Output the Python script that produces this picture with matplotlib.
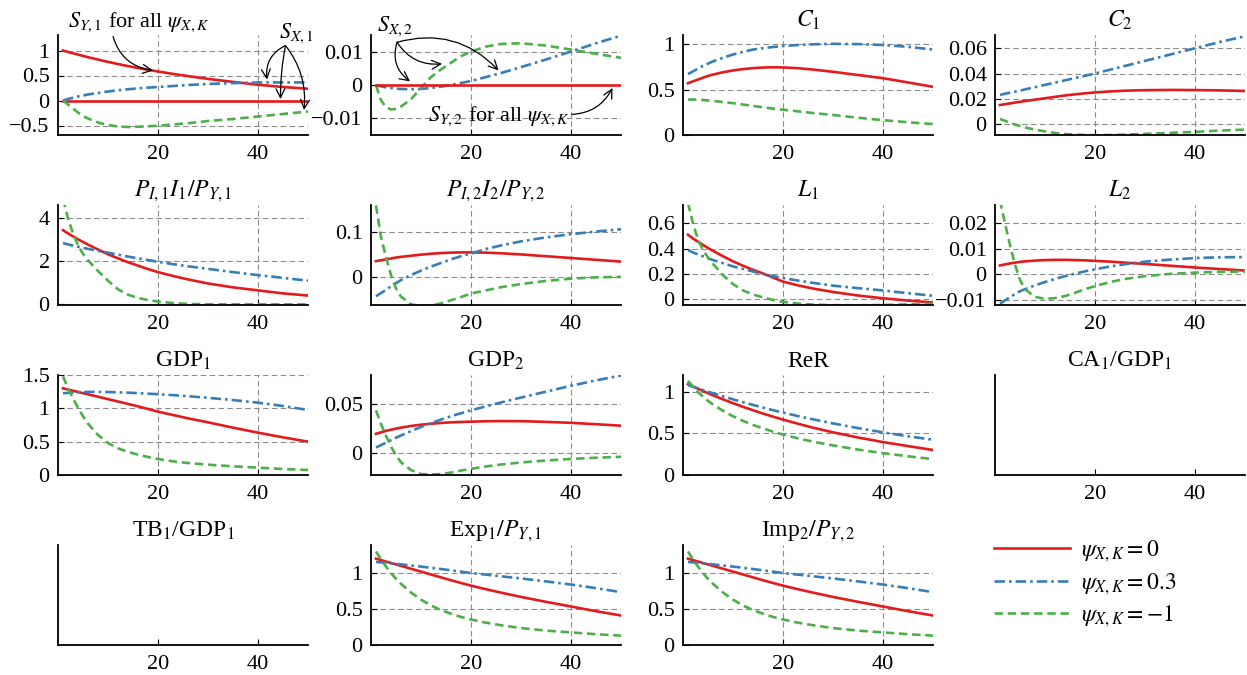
import matplotlib
matplotlib.use('Agg')
from matplotlib import pyplot as plt
from matplotlib.lines import Line2D
from matplotlib.ticker import FuncFormatter, FixedLocator

plt.rcParams['font.family'] = ['Liberation Serif', 'DejaVu Serif']
plt.rcParams['mathtext.fontset'] = 'stix'
plt.rcParams['font.size'] = 16

# horizon (quarters)
t = [1, 2, 3, 4, 5, 6, 8, 10, 12, 14, 16, 18, 20, 23, 26, 30, 35, 40, 45, 50]

# S_Y,1 / S_X,1
sy1 = [1.0, 0.97, 0.945, 0.918, 0.892, 0.866, 0.818, 0.772, 0.729, 0.688, 0.65, 0.614, 0.58, 0.532, 0.488, 0.432, 0.372, 0.315, 0.27, 0.235]
sx1_red = [0]*20
sx1_blue = [0.0, 0.03, 0.055, 0.08, 0.10, 0.12, 0.15, 0.18, 0.205, 0.225, 0.243, 0.258, 0.27, 0.29, 0.31, 0.33, 0.348, 0.36, 0.362, 0.362]
sx1_green = [0.0, -0.08, -0.16, -0.24, -0.31, -0.36, -0.44, -0.49, -0.52, -0.53, -0.525, -0.515, -0.505, -0.48, -0.455, -0.41, -0.37, -0.32, -0.27, -0.22]

# S_Y,2 / S_X,2
sy2 = [0]*20
sx2_blue = [0.0, -0.0003, -0.0006, -0.0008, -0.001, -0.0011, -0.0012, -0.0011, -0.0008, -0.0004, 0.0001, 0.0007, 0.0013, 0.0025, 0.0037, 0.0055, 0.0078, 0.0102, 0.0127, 0.015]
sx2_green = [0.0, -0.0045, -0.0066, -0.0073, -0.0071, -0.0064, -0.0042, -0.0008, 0.0025, 0.0048, 0.0068, 0.0088, 0.0102, 0.0117, 0.0125, 0.0127, 0.012, 0.0108, 0.0095, 0.0083]

# C_1
c1_red = [0.57, 0.59, 0.61, 0.63, 0.65, 0.665, 0.69, 0.71, 0.725, 0.735, 0.742, 0.745, 0.743, 0.735, 0.72, 0.695, 0.66, 0.625, 0.578, 0.53]
c1_blue = [0.67, 0.70, 0.73, 0.76, 0.785, 0.81, 0.85, 0.885, 0.915, 0.94, 0.955, 0.968, 0.978, 0.99, 0.998, 1.003, 1.0, 0.99, 0.97, 0.94]
c1_green = [0.39, 0.39, 0.388, 0.385, 0.38, 0.375, 0.363, 0.35, 0.335, 0.32, 0.305, 0.29, 0.278, 0.26, 0.242, 0.22, 0.19, 0.163, 0.14, 0.12]

# C_2
c2_red = [0.015, 0.0157, 0.0163, 0.017, 0.0176, 0.0182, 0.0193, 0.0204, 0.0215, 0.0226, 0.0235, 0.0243, 0.025, 0.0258, 0.0264, 0.0268, 0.027, 0.0269, 0.0266, 0.0262]
c2_blue = [0.023, 0.024, 0.0248, 0.0256, 0.0265, 0.0274, 0.0292, 0.031, 0.0328, 0.0346, 0.0364, 0.0382, 0.04, 0.043, 0.046, 0.05, 0.055, 0.06, 0.065, 0.0695]
c2_green = [0.004, 0.0025, 0.001, -0.0004, -0.0016, -0.0027, -0.0045, -0.0058, -0.0071, -0.0079, -0.0084, -0.0087, -0.0088, -0.0087, -0.0084, -0.0078, -0.007, -0.0062, -0.0052, -0.0044]

# P_I,1 I_1 / P_Y,1
i1_red = [3.45, 3.3, 3.16, 3.03, 2.9, 2.78, 2.55, 2.33, 2.14, 1.96, 1.8, 1.64, 1.5, 1.32, 1.16, 0.97, 0.79, 0.65, 0.51, 0.41]
i1_blue = [2.85, 2.79, 2.73, 2.68, 2.63, 2.58, 2.49, 2.4, 2.31, 2.22, 2.14, 2.06, 1.98, 1.87, 1.77, 1.65, 1.5, 1.36, 1.23, 1.1]
i1_green = [4.9, 4.0, 3.3, 2.75, 2.35, 2.05, 1.55, 1.1, 0.7, 0.45, 0.3, 0.2, 0.13, 0.06, 0.02, 0.0, 0.0, 0.0, 0.0, 0.0]

# P_I,2 I_2 / P_Y,2
i2_red = [0.036, 0.038, 0.04, 0.042, 0.044, 0.0455, 0.048, 0.0505, 0.0525, 0.054, 0.055, 0.0555, 0.0555, 0.055, 0.0535, 0.051, 0.047, 0.043, 0.039, 0.035]
i2_blue = [-0.042, -0.035, -0.028, -0.02, -0.013, -0.006, 0.005, 0.015, 0.024, 0.032, 0.04, 0.047, 0.053, 0.063, 0.071, 0.08, 0.089, 0.096, 0.102, 0.107]
i2_green = [0.16, 0.09, 0.045, 0.005, -0.025, -0.043, -0.06, -0.064, -0.063, -0.058, -0.051, -0.044, -0.036, -0.029, -0.022, -0.015, -0.008, -0.003, 0.0, 0.001]

# L_1
l1_red = [0.51, 0.48, 0.455, 0.43, 0.405, 0.383, 0.34, 0.3, 0.265, 0.233, 0.204, 0.172, 0.14, 0.11, 0.085, 0.058, 0.03, 0.008, -0.01, -0.025]
l1_blue = [0.39, 0.37, 0.355, 0.34, 0.325, 0.31, 0.285, 0.26, 0.24, 0.22, 0.2, 0.183, 0.168, 0.148, 0.13, 0.108, 0.088, 0.07, 0.048, 0.028]
l1_green = [0.76, 0.6, 0.47, 0.39, 0.33, 0.28, 0.19, 0.12, 0.07, 0.038, 0.015, -0.005, -0.02, -0.034, -0.042, -0.046, -0.047, -0.045, -0.04, -0.035]

# L_2
l2_red = [0.0035, 0.0039, 0.0043, 0.0046, 0.0049, 0.0051, 0.0054, 0.0056, 0.0057, 0.0057, 0.0056, 0.0055, 0.0053, 0.005, 0.0046, 0.0041, 0.0034, 0.0027, 0.0021, 0.0015]
l2_blue = [-0.0115, -0.0102, -0.0089, -0.0077, -0.0066, -0.0058, -0.0043, -0.003, -0.0018, -0.0007, 0.0003, 0.0012, 0.002, 0.0031, 0.004, 0.005, 0.0058, 0.0064, 0.0067, 0.0068]
l2_green = [0.029, 0.02, 0.0115, 0.0038, -0.0022, -0.0058, -0.0088, -0.0096, -0.0093, -0.0085, -0.0072, -0.0058, -0.0046, -0.003, -0.0018, -0.0007, 0.0002, 0.0007, 0.001, 0.0011]

# GDP_1
g1_red = [1.3, 1.282, 1.264, 1.246, 1.228, 1.21, 1.174, 1.138, 1.102, 1.066, 1.03, 0.99, 0.95, 0.9, 0.85, 0.79, 0.71, 0.635, 0.565, 0.5]
g1_blue = [1.225, 1.232, 1.238, 1.242, 1.245, 1.246, 1.246, 1.244, 1.24, 1.235, 1.228, 1.22, 1.212, 1.198, 1.182, 1.158, 1.124, 1.085, 1.035, 0.975]
g1_green = [1.48, 1.3, 1.15, 1.01, 0.88, 0.77, 0.6, 0.48, 0.4, 0.345, 0.305, 0.27, 0.24, 0.205, 0.18, 0.155, 0.13, 0.11, 0.09, 0.075]

# GDP_2
g2_red = [0.02, 0.0215, 0.023, 0.0242, 0.0253, 0.0263, 0.028, 0.0293, 0.0303, 0.0311, 0.0317, 0.0321, 0.0324, 0.0328, 0.033, 0.0329, 0.0322, 0.0312, 0.0298, 0.0283]
g2_blue = [0.006, 0.0085, 0.011, 0.0135, 0.016, 0.0183, 0.0228, 0.027, 0.031, 0.0345, 0.038, 0.041, 0.044, 0.048, 0.052, 0.057, 0.063, 0.069, 0.0745, 0.0795]
g2_green = [0.044, 0.03, 0.018, 0.007, -0.002, -0.009, -0.017, -0.021, -0.0215, -0.021, -0.0195, -0.0175, -0.0157, -0.0133, -0.0113, -0.0092, -0.0072, -0.0056, -0.0044, -0.0034]

# ReR
rer_red = [1.09, 1.062, 1.035, 1.008, 0.982, 0.957, 0.908, 0.862, 0.818, 0.777, 0.737, 0.7, 0.665, 0.615, 0.568, 0.512, 0.45, 0.395, 0.347, 0.3]
rer_blue = [1.08, 1.059, 1.039, 1.019, 1.0, 0.981, 0.944, 0.908, 0.874, 0.841, 0.809, 0.778, 0.749, 0.707, 0.668, 0.619, 0.563, 0.512, 0.465, 0.423]
rer_green = [1.13, 1.06, 0.995, 0.94, 0.89, 0.845, 0.77, 0.705, 0.65, 0.6, 0.56, 0.52, 0.485, 0.44, 0.4, 0.355, 0.305, 0.262, 0.225, 0.19]

# Exp_1 / P_Y,1  and  Imp_2 / P_Y,2
exp_red = [1.2, 1.18, 1.16, 1.14, 1.12, 1.1, 1.06, 1.02, 0.98, 0.94, 0.9, 0.862, 0.825, 0.775, 0.728, 0.668, 0.6, 0.535, 0.47, 0.41]
exp_blue = [1.155, 1.148, 1.141, 1.134, 1.127, 1.12, 1.105, 1.09, 1.073, 1.056, 1.038, 1.02, 1.0, 0.978, 0.955, 0.925, 0.884, 0.84, 0.79, 0.735]
exp_green = [1.3, 1.19, 1.09, 1.0, 0.92, 0.85, 0.73, 0.63, 0.55, 0.485, 0.435, 0.39, 0.355, 0.31, 0.275, 0.235, 0.2, 0.175, 0.15, 0.13]
imp_red = exp_red
imp_blue = exp_blue
imp_green = exp_green

RED, BLUE, GREEN = '#e41a1c', '#377eb8', '#4daf4a'
LW = 1.9
sty = {
    'r': dict(color=RED, lw=LW, ls='-'),
    'b': dict(color=BLUE, lw=LW, ls=(0, (4, 1.5, 1, 1.5))),
    'g': dict(color=GREEN, lw=LW, ls=(0, (3.2, 1.8))),
}

panels = [
    (0, 0, None, (-0.69, 1.31), [-0.5, 0, 0.5, 1], [('r', sy1), ('r', sx1_red), ('b', sx1_blue), ('g', sx1_green)]),
    (0, 1, None, (-0.015, 0.0152), [-0.01, 0, 0.01], [('b', sx2_blue), ('g', sx2_green), ('r', sy2)]),
    (0, 2, r'$C_1$', (0, 1.1), [0, 0.5, 1], [('r', c1_red), ('b', c1_blue), ('g', c1_green)]),
    (0, 3, r'$C_2$', (-0.0087, 0.0705), [0, 0.02, 0.04, 0.06], [('r', c2_red), ('b', c2_blue), ('g', c2_green)]),
    (1, 0, r'$P_{I,1}I_1/P_{Y,1}$', (-0.03, 4.62), [0, 2, 4], [('r', i1_red), ('b', i1_blue), ('g', i1_green)]),
    (1, 1, r'$P_{I,2}I_2/P_{Y,2}$', (-0.0616, 0.161), [0, 0.1], [('r', i2_red), ('b', i2_blue), ('g', i2_green)]),
    (1, 2, r'$L_1$', (-0.045, 0.745), [0, 0.2, 0.4, 0.6], [('r', l1_red), ('b', l1_blue), ('g', l1_green)]),
    (1, 3, r'$L_2$', (-0.012, 0.0272), [-0.01, 0, 0.01, 0.02], [('r', l2_red), ('b', l2_blue), ('g', l2_green)]),
    (2, 0, r'GDP$_1$', (0, 1.5), [0, 0.5, 1, 1.5], [('r', g1_red), ('b', g1_blue), ('g', g1_green)]),
    (2, 1, r'GDP$_2$', (-0.022, 0.08), [0, 0.05], [('r', g2_red), ('b', g2_blue), ('g', g2_green)]),
    (2, 2, 'ReR', (0, 1.2), [0, 0.5, 1], [('r', rer_red), ('b', rer_blue), ('g', rer_green)]),
    (2, 3, r'CA$_1$/GDP$_1$', None, [], []),
    (3, 0, r'TB$_1$/GDP$_1$', None, [], []),
    (3, 1, r'Exp$_1/P_{Y,1}$', (0, 1.39), [0, 0.5, 1], [('r', exp_red), ('b', exp_blue), ('g', exp_green)]),
    (3, 2, r'Imp$_2/P_{Y,2}$', (0, 1.39), [0, 0.5, 1], [('r', imp_red), ('b', imp_blue), ('g', imp_green)]),
]

W, H = 1247.0, 675.0
col_x = [58, 371, 683, 995]
row_y = [35, 205, 375, 545]


def fmt(v, pos):
    return ('%g' % v).replace('-', '\u2212')


fig = plt.figure(figsize=(12.47, 6.75), dpi=100)
axes = {}
for row, col, title, ylim, yt, lines in panels:
    ax = fig.add_axes([col_x[col] / W, 1 - (row_y[row] + 100) / H, 250 / W, 100 / H])
    axes[(row, col)] = ax
    for key, vals in lines:
        ax.plot(t, vals, **sty[key])
    ax.set_xlim(0, 50)
    ax.xaxis.set_major_locator(FixedLocator([20, 40]))
    ax.yaxis.set_major_locator(FixedLocator(yt))
    ax.yaxis.set_major_formatter(FuncFormatter(fmt))
    if ylim is not None:
        ax.set_ylim(*ylim)
        ax.grid(True, color='#8c8c8c', lw=0.8, ls=(0, (5, 3)))
    for s in ('top', 'right'):
        ax.spines[s].set_visible(False)
    for s in ('left', 'bottom'):
        ax.spines[s].set_linewidth(1.3)
    ax.tick_params(direction='in', length=4, width=0.8, labelsize=16)
    ax.tick_params(axis='x', pad=7)
    ax.tick_params(axis='y', pad=6)
    if title:
        ax.set_title(title, fontsize=17, pad=6)

arr = dict(arrowstyle='->', color='black', lw=0.9, shrinkA=0, shrinkB=0)

ax = axes[(0, 0)]
ax.annotate(r'$S_{Y,1}$ for all $\psi_{X,K}$', xy=(19, 0.6), xytext=(2, 1.57),
            ha='left', va='center', fontsize=16, annotation_clip=False,
            arrowprops=dict(arr, connectionstyle='arc3,rad=0.35', relpos=(0.31, 0.1)))
ax.text(47.6, 1.34, r'$S_{X,1}$', ha='center', va='center', fontsize=16)
for tip, rad in [((41.8, 0.42), 0.35), ((44.5, 0.03), 0.05), ((49.2, -0.19), -0.2)]:
    ax.annotate('', xy=tip, xytext=(45.5, 1.1), annotation_clip=False,
                arrowprops=dict(arr, connectionstyle='arc3,rad=%g' % rad))

ax = axes[(0, 1)]
ax.text(4.8, 0.0178, r'$S_{X,2}$', ha='center', va='center', fontsize=16)
for tip, rad in [((7.8, 0.0012), 0.35), ((14.2, 0.0065), 0.3), ((25.5, 0.0045), -0.3)]:
    ax.annotate('', xy=tip, xytext=(5.2, 0.013), annotation_clip=False,
                arrowprops=dict(arr, connectionstyle='arc3,rad=%g' % rad))
ax.annotate(r'$S_{Y,2}$ for all $\psi_{X,K}$', xy=(48.3, -0.0008), xytext=(25.5, -0.0095),
            ha='center', va='center', fontsize=16,
            arrowprops=dict(arr, connectionstyle='arc3,rad=0.3', relpos=(1, 0.6)))

handles = [Line2D([], [], **sty['r']), Line2D([], [], **sty['b']), Line2D([], [], **sty['g'])]
labels = [r'$\psi_{X,K} = 0$', r'$\psi_{X,K} = 0.3$', r'$\psi_{X,K} = -1$']
fig.legend(handles, labels, loc='center left', bbox_to_anchor=(994 / W, 1 - 584 / H),
           frameon=False, fontsize=17, handlelength=3.2, handletextpad=0.5,
           labelspacing=0.3, borderpad=0, borderaxespad=0)

fig.savefig('out.png', dpi=100)
